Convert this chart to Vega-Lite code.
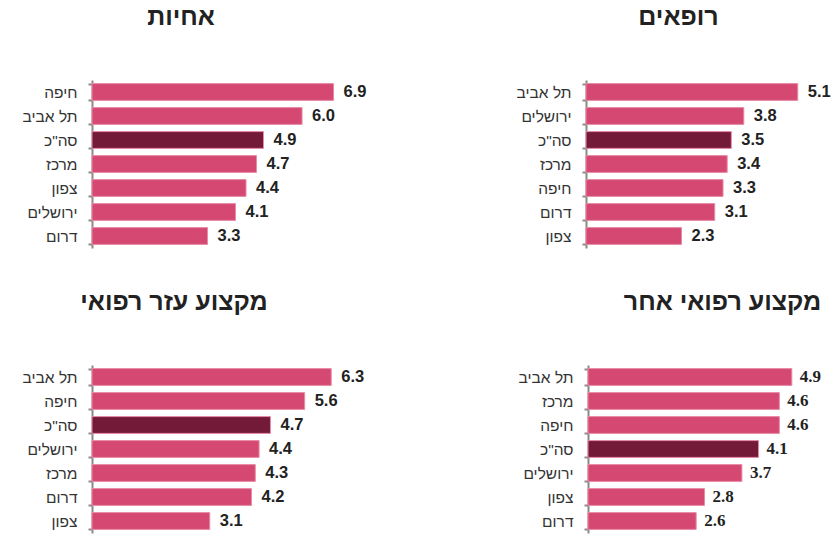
{
  "$schema": "https://vega.github.io/schema/vega-lite/v6.json",
  "background": "white",
  "padding": 5,
  "spacing": 42,
  "datasets": {
    "all": [
      {"panel": "nurses", "region": "חיפה", "value": 6.9, "total": false},
      {"panel": "nurses", "region": "תל אביב", "value": 6.0, "total": false},
      {"panel": "nurses", "region": "סה\"כ", "value": 4.9, "total": true},
      {"panel": "nurses", "region": "מרכז", "value": 4.7, "total": false},
      {"panel": "nurses", "region": "צפון", "value": 4.4, "total": false},
      {"panel": "nurses", "region": "ירושלים", "value": 4.1, "total": false},
      {"panel": "nurses", "region": "דרום", "value": 3.3, "total": false},
      {"panel": "doctors", "region": "תל אביב", "value": 5.1, "total": false},
      {"panel": "doctors", "region": "ירושלים", "value": 3.8, "total": false},
      {"panel": "doctors", "region": "סה\"כ", "value": 3.5, "total": true},
      {"panel": "doctors", "region": "מרכז", "value": 3.4, "total": false},
      {"panel": "doctors", "region": "חיפה", "value": 3.3, "total": false},
      {"panel": "doctors", "region": "דרום", "value": 3.1, "total": false},
      {"panel": "doctors", "region": "צפון", "value": 2.3, "total": false},
      {"panel": "aux", "region": "תל אביב", "value": 6.3, "total": false},
      {"panel": "aux", "region": "חיפה", "value": 5.6, "total": false},
      {"panel": "aux", "region": "סה\"כ", "value": 4.7, "total": true},
      {"panel": "aux", "region": "ירושלים", "value": 4.4, "total": false},
      {"panel": "aux", "region": "מרכז", "value": 4.3, "total": false},
      {"panel": "aux", "region": "דרום", "value": 4.2, "total": false},
      {"panel": "aux", "region": "צפון", "value": 3.1, "total": false},
      {"panel": "other", "region": "תל אביב", "value": 4.9, "total": false},
      {"panel": "other", "region": "מרכז", "value": 4.6, "total": false},
      {"panel": "other", "region": "חיפה", "value": 4.6, "total": false},
      {"panel": "other", "region": "סה\"כ", "value": 4.1, "total": true},
      {"panel": "other", "region": "ירושלים", "value": 3.7, "total": false},
      {"panel": "other", "region": "צפון", "value": 2.8, "total": false},
      {"panel": "other", "region": "דרום", "value": 2.6, "total": false}
    ]
  },
  "config": {
    "view": {"stroke": null},
    "font": "Liberation Sans",
    "title": {"fontSize": 25, "font": "Liberation Sans", "fontWeight": "bold", "color": "#222", "offset": 43},
    "axisY": {
      "title": null,
      "domainColor": "#8a8a8a",
      "domainWidth": 2,
      "ticks": true,
      "tickColor": "#8a8a8a",
      "tickWidth": 2,
      "tickSize": 4,
      "tickBand": "extent",
      "labelFont": "Liberation Sans",
      "labelFontSize": 15.5,
      "labelColor": "#333",
      "labelPadding": 11
    }
  },
  "vconcat": [
    {
      "spacing": 20,
      "hconcat": [
        {
          "title": {"text": "אחיות", "anchor": "middle", "frame": "group", "dx": -61},
          "width": 300,
          "height": 168,
          "data": {"name": "all"},
          "transform": [{"filter": "datum.panel === 'nurses'"}],
          "encoding": {
            "y": {"field": "region", "type": "nominal", "sort": null, "scale": {"paddingInner": 0.3, "paddingOuter": 0.15}, "axis": {"minExtent": 87, "maxExtent": 87}},
            "x": {"field": "value", "type": "quantitative", "scale": {"domain": [0, 8.57]}, "axis": null}
          },
          "layer": [
            {"mark": {"type": "bar", "stroke": "#e98aa6", "strokeWidth": 1}, "encoding": {"color": {"field": "total", "type": "nominal", "scale": {"domain": [false, true], "range": ["#D44872", "#731A38"]}, "legend": null}}},
            {"mark": {"type": "text", "align": "left", "dx": 10, "font": "Liberation Sans", "fontSize": 16.5, "fontWeight": "bold", "color": "#222"}, "encoding": {"text": {"field": "value", "type": "quantitative", "format": ".1f"}}}
          ]
        },
        {
          "title": {"text": "רופאים", "anchor": "middle", "frame": "group", "dx": -30},
          "width": 245,
          "height": 168,
          "data": {"name": "all"},
          "transform": [{"filter": "datum.panel === 'doctors'"}],
          "encoding": {
            "y": {"field": "region", "type": "nominal", "sort": null, "scale": {"paddingInner": 0.3, "paddingOuter": 0.15}, "axis": {"minExtent": 174, "maxExtent": 174}},
            "x": {"field": "value", "type": "quantitative", "scale": {"domain": [0, 5.9]}, "axis": null}
          },
          "layer": [
            {"mark": {"type": "bar", "stroke": "#e98aa6", "strokeWidth": 1}, "encoding": {"color": {"field": "total", "type": "nominal", "scale": {"domain": [false, true], "range": ["#D44872", "#731A38"]}, "legend": null}}},
            {"mark": {"type": "text", "align": "left", "dx": 10, "font": "Liberation Sans", "fontSize": 16.5, "fontWeight": "bold", "color": "#222"}, "encoding": {"text": {"field": "value", "type": "quantitative", "format": ".1f"}}}
          ]
        }
      ]
    },
    {
      "spacing": 20,
      "hconcat": [
        {
          "title": {"text": "מקצוע עזר רפואי", "anchor": "middle", "frame": "group", "dx": -68},
          "width": 300,
          "height": 168,
          "data": {"name": "all"},
          "transform": [{"filter": "datum.panel === 'aux'"}],
          "encoding": {
            "y": {"field": "region", "type": "nominal", "sort": null, "scale": {"paddingInner": 0.3, "paddingOuter": 0.15}, "axis": {"minExtent": 87, "maxExtent": 87}},
            "x": {"field": "value", "type": "quantitative", "scale": {"domain": [0, 7.9]}, "axis": null}
          },
          "layer": [
            {"mark": {"type": "bar", "stroke": "#e98aa6", "strokeWidth": 1}, "encoding": {"color": {"field": "total", "type": "nominal", "scale": {"domain": [false, true], "range": ["#D44872", "#731A38"]}, "legend": null}}},
            {"mark": {"type": "text", "align": "left", "dx": 10, "font": "Liberation Sans", "fontSize": 16.5, "fontWeight": "bold", "color": "#222"}, "encoding": {"text": {"field": "value", "type": "quantitative", "format": ".1f"}}}
          ]
        },
        {
          "title": {"text": "מקצוע רפואי אחר", "anchor": "middle", "frame": "group", "dx": 12},
          "width": 245,
          "height": 168,
          "data": {"name": "all"},
          "transform": [{"filter": "datum.panel === 'other'"}],
          "encoding": {
            "y": {"field": "region", "type": "nominal", "sort": null, "scale": {"paddingInner": 0.3, "paddingOuter": 0.15}, "axis": {"minExtent": 176, "maxExtent": 176}},
            "x": {"field": "value", "type": "quantitative", "scale": {"domain": [0, 5.89]}, "axis": null}
          },
          "layer": [
            {"mark": {"type": "bar", "stroke": "#e98aa6", "strokeWidth": 1}, "encoding": {"color": {"field": "total", "type": "nominal", "scale": {"domain": [false, true], "range": ["#D44872", "#731A38"]}, "legend": null}}},
            {"mark": {"type": "text", "align": "left", "dx": 8, "font": "Liberation Serif", "fontSize": 17, "fontWeight": "bold", "color": "#222"}, "encoding": {"text": {"field": "value", "type": "quantitative", "format": ".1f"}}}
          ]
        }
      ]
    }
  ]
}
